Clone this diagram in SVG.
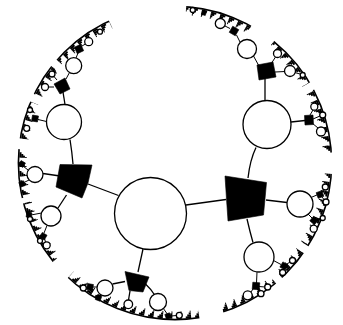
<svg xmlns="http://www.w3.org/2000/svg" width="343" height="325" viewBox="0 0 343 325">
<style>
.c{fill:#fff;stroke:#000;stroke-width:1.3}
.s{fill:#000;stroke:#000;stroke-width:0.6;stroke-linejoin:round}
.e{fill:none;stroke:#000;stroke-width:1.3}
.t{fill:none;stroke:#000;stroke-width:1}
.k{fill:none;stroke:#000;stroke-width:2}
</style>
<defs>
<mask id="band" maskUnits="userSpaceOnUse" x="0" y="0" width="343" height="325">
<circle cx="175" cy="163" r="153" fill="none" stroke="#fff" stroke-width="16" stroke-dasharray="0 10.68 74.77 8.01 32.04 8.01 58.75 24.03 138.86 21.36 64.09 5.34 48.07 10.68 37.39 8.01 32.04 8.01 64.09 77.44 66.76 26.7 53.41 8.01 64.09 10.68"/>
</mask>
</defs>
<rect width="343" height="325" fill="#fff"/>
<g id="boundary" mask="url(#band)">
<circle cx="175" cy="163" r="156.6" fill="none" stroke="#000" stroke-width="1.6"/>
<circle class="k" cx="175" cy="163" r="154.8" pathLength="360" stroke-dasharray="2 1.5"/>
<circle class="k" cx="175" cy="163" r="153" pathLength="360" stroke-dasharray="1.4 2.1"/>
<circle class="k" cx="175" cy="163" r="151.2" pathLength="360" stroke-dasharray="0.8 2.7"/>
<circle class="k" cx="175" cy="163" r="149.4" pathLength="360" stroke-dasharray="0.35 3.15"/>
</g>
<g id="connectors">
<path class="e" d="M186,205 L226,199.5"/>
<path class="e" d="M118.5,195.5 L88,184"/>
<path class="e" d="M143,249 L138,272"/>
<path class="e" d="M256,147.5 Q250,160 248,178"/>
<path class="e" d="M266,200 L287,202.5"/>
<path class="e" d="M247,219 Q250,232 253,242.5"/>
<path class="e" d="M70,139.5 Q72,152 73,164"/>
<path class="e" d="M43,173.5 L60,176"/>
<path class="e" d="M66.5,195 L58,208"/>
<path class="e" d="M112.5,284 L125,281.5"/>
<path class="e" d="M145,283.5 Q151,289 155,295.5"/>
<path class="e" d="M130,291 L128.5,300"/>
<path class="e" d="M265,100.5 L265,78"/>
<path class="e" d="M291,122 L305,120.5"/>
<path class="t" d="M311,197.5 L318,194.5"/>
<path class="t" d="M308,214 L313,219"/>
<path class="t" d="M273.5,260.5 L281,264.5"/>
<path class="t" d="M257,272 L256.5,283"/>
<path class="e" d="M65,104.5 L63,92"/>
<path class="t" d="M46.5,121.5 L38,119.5"/>
<path class="t" d="M28,170 L23,166"/>
<path class="t" d="M29,180 L23,183"/>
<path class="t" d="M41.5,213 L31,215"/>
<path class="t" d="M47,225.5 L44,233"/>
<path class="t" d="M97,287 L92,287"/>
<path class="t" d="M101,295 L99,297"/>
<path class="t" d="M163,308 L168,315"/>
<path class="t" d="M259,66 L253.5,56"/>
<path class="t" d="M271,64 L275.5,57"/>
<path class="t" d="M275,72 L285,71.5"/>
<path class="t" d="M66,79 L69.5,72.5"/>
<path class="t" d="M54,87 L48.5,87"/>
<path class="t" d="M57,80 L54,76.5"/>
<path class="t" d="M76,58 L78,53"/>
<path class="t" d="M82,46 L85.5,44"/>
<path class="t" d="M240,42 L236.5,35"/>
<path class="t" d="M230,28.5 L225,26"/>
<path class="t" d="M310,115 L313,110"/>
<path class="t" d="M312,123 L318,128"/>
<path class="t" d="M313,119 L320,116"/>
<path class="t" d="M322,192 L324,189.5"/>
<path class="t" d="M322,197 L324,199.5"/>
<path class="t" d="M314,223 L314,225"/>
<path class="t" d="M317,219.5 L320.5,218.5"/>
<path class="t" d="M287,264 L290,262"/>
<path class="t" d="M283.5,268.5 L283,269.5"/>
<path class="t" d="M253,289 L251,292"/>
<path class="t" d="M259,286.5 L265,287"/>
<path class="t" d="M257,289 L259,291"/>
<path class="t" d="M43,239 L41.5,240"/>
<path class="t" d="M44.5,238.5 L45.5,242"/>
<path class="t" d="M87,287.5 L86,287.8"/>
<path class="t" d="M171,316 L176.5,315.5"/>
<path class="t" d="M326,127 L328,127"/>
<path class="t" d="M293,72 L300,74"/>
</g>
<g id="n-c0"><circle class="c" cx="150.5" cy="213.5" r="36"/></g>
<g id="n-r"><polygon class="s" points="225,176 266.5,182.5 263.5,215 228,221 226.5,199"/></g>
<g id="n-l"><polygon class="s" points="60,164.5 92,165 88,183 82,198 56,187"/></g>
<g id="n-b"><polygon class="s" points="125,271.5 149,277 143,292 129,290.5"/></g>
<g id="n-tr"><circle class="c" cx="267" cy="124.5" r="24"/></g>
<g id="n-rc"><circle class="c" cx="300" cy="204" r="13"/></g>
<g id="n-br"><circle class="c" cx="259" cy="257" r="15"/></g>
<g id="n-ul"><circle class="c" cx="64" cy="122" r="17.5"/></g>
<g id="n-lc"><circle class="c" cx="35" cy="174.5" r="8"/></g>
<g id="n-ll"><circle class="c" cx="51" cy="216" r="10"/></g>
<g id="n-bl"><circle class="c" cx="105" cy="288" r="8"/></g>
<g id="n-brc"><circle class="c" cx="158" cy="302" r="8.5"/></g>
<g id="n-bb"><circle class="c" cx="128.3" cy="304.3" r="4.3"/></g>
<g id="n-trs1"><polygon class="s" points="257,65 273,62 276,77 259,80"/></g>
<g id="n-trs2"><polygon class="s" points="304.5,115.5 313,115 313.5,124.5 305,125"/></g>
<g id="n-uls1"><polygon class="s" points="54,84 65,78 70,89 60,94"/></g>
<g id="n-s1"><rect class="s" x="317" y="191.5" width="6" height="6" transform="rotate(-20 320 194.5)"/></g>
<g id="n-s2"><rect class="s" x="311" y="217.5" width="6" height="6" transform="rotate(40 314 220.5)"/></g>
<g id="n-s3"><rect class="s" x="281" y="263" width="6" height="6" transform="rotate(30 284 266)"/></g>
<g id="n-s4"><rect class="s" x="252.5" y="282.5" width="7" height="7" transform="rotate(5 256 286)"/></g>
<g id="n-s5"><rect class="s" x="32" y="115.5" width="6" height="6" transform="rotate(10 35 118.5)"/></g>
<g id="n-s6"><rect class="s" x="19.5" y="161.5" width="5" height="5" transform="rotate(30 22 164)"/></g>
<g id="n-s7"><rect class="s" x="19.5" y="181.5" width="5" height="5" transform="rotate(-20 22 184)"/></g>
<g id="n-s8"><rect class="s" x="26.5" y="212.5" width="5" height="5" transform="rotate(10 29 215)"/></g>
<g id="n-s9"><rect class="s" x="40.5" y="233.5" width="5.5" height="5.5" transform="rotate(30 43.3 236.3)"/></g>
<g id="n-s10"><rect class="s" x="87" y="284" width="6" height="6" transform="rotate(10 90 287)"/></g>
<g id="n-s11"><rect class="s" x="96" y="295.5" width="5" height="5" transform="rotate(20 98.5 298)"/></g>
<g id="n-s12"><rect class="s" x="165.5" y="313.5" width="5" height="5" transform="rotate(-20 168 316)"/></g>
<g id="n-s13"><rect class="s" x="230.5" y="27.5" width="7" height="7" transform="rotate(30 234 31)"/></g>
<g id="n-s14"><rect class="s" x="75.5" y="45.5" width="7" height="7" transform="rotate(-25 79 49)"/></g>
<g id="n-s15"><rect class="s" x="202" y="11" width="4" height="4" transform="rotate(20 204 13)"/></g>
<g id="n-a1"><circle class="c" cx="247" cy="49" r="9.5"/></g>
<g id="n-a2"><circle class="c" cx="277.5" cy="53.5" r="4"/></g>
<g id="n-a3"><circle class="c" cx="290" cy="71" r="5.5"/></g>
<g id="n-a4"><circle class="c" cx="220.3" cy="23.5" r="5"/></g>
<g id="n-a5"><circle class="c" cx="314.3" cy="106.7" r="3.5"/></g>
<g id="n-a6"><circle class="c" cx="321" cy="131.5" r="4.5"/></g>
<g id="n-a7"><circle class="c" cx="322.7" cy="115" r="3"/></g>
<g id="n-a8"><circle class="c" cx="325.3" cy="187" r="3"/></g>
<g id="n-a9"><circle class="c" cx="326" cy="202" r="3"/></g>
<g id="n-a10"><circle class="c" cx="313.7" cy="228.7" r="3.5"/></g>
<g id="n-a11"><circle class="c" cx="322.7" cy="218" r="2.5"/></g>
<g id="n-a12"><circle class="c" cx="292.5" cy="260.5" r="3"/></g>
<g id="n-a13"><circle class="c" cx="282.7" cy="272.5" r="3"/></g>
<g id="n-a14"><circle class="c" cx="247.7" cy="295.3" r="4.5"/></g>
<g id="n-a15"><circle class="c" cx="267.7" cy="287" r="3"/></g>
<g id="n-a16"><circle class="c" cx="261" cy="293.7" r="3"/></g>
<g id="n-a17"><circle class="c" cx="73.7" cy="65.7" r="8"/></g>
<g id="n-a18"><circle class="c" cx="45" cy="87" r="3.5"/></g>
<g id="n-a19"><circle class="c" cx="52" cy="74" r="3"/></g>
<g id="n-a20"><circle class="c" cx="88.7" cy="41.7" r="4"/></g>
<g id="n-a21"><circle class="c" cx="100" cy="31.7" r="2.5"/></g>
<g id="n-a22"><circle class="c" cx="30" cy="110" r="2.5"/></g>
<g id="n-a23"><circle class="c" cx="26.7" cy="128.3" r="3"/></g>
<g id="n-a24"><circle class="c" cx="46.7" cy="245.3" r="3.5"/></g>
<g id="n-a25"><circle class="c" cx="40" cy="240.8" r="2.5"/></g>
<g id="n-a26"><circle class="c" cx="83.3" cy="288" r="3"/></g>
<g id="n-a28"><circle class="c" cx="179.3" cy="315.3" r="3"/></g>
<g id="n-a29"><circle class="c" cx="192.7" cy="10" r="2.5"/></g>
<g id="n-a30"><circle class="c" cx="302.7" cy="75" r="2.5"/></g>
<g id="n-a31"><circle class="c" cx="30" cy="219" r="2.5"/></g>
</svg>
